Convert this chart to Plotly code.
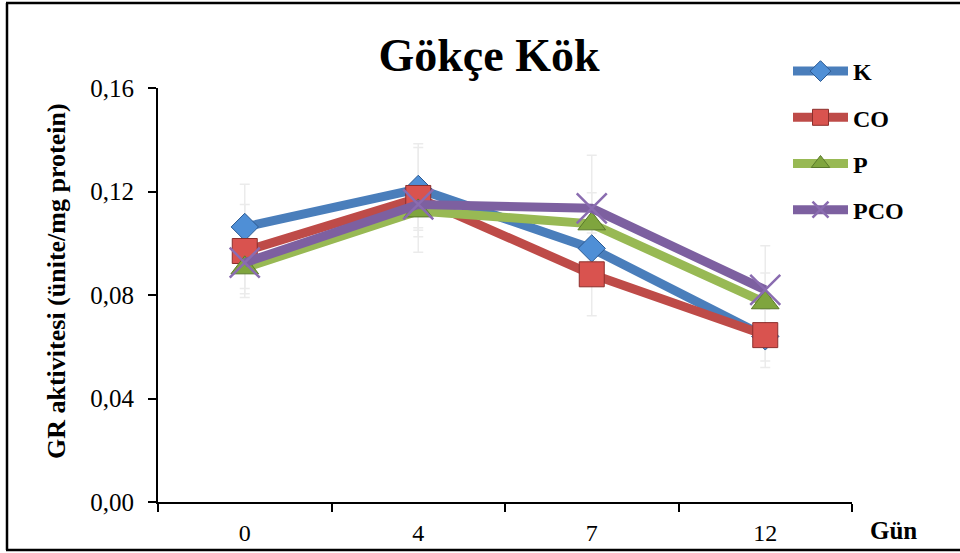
import plotly.graph_objects as go

days = ["0", "4", "7", "12"]
series_names = ["K", "CO", "P", "PCO"]
k_vals = [0.1063, 0.1210, 0.0980, 0.0640]
co_vals = [0.0970, 0.1175, 0.0880, 0.0645]
p_vals = [0.0905, 0.1125, 0.1075, 0.0770]
pco_vals = [0.0925, 0.1150, 0.1135, 0.0820]
k_err = [0.0165, 0.0160, 0.0140, 0.0120]
co_err = [0.0180, 0.0210, 0.0160, 0.0100]
p_err = [0.0100, 0.0100, 0.0120, 0.0115]
pco_err = [0.0100, 0.0090, 0.0205, 0.0170]
y_ticks = [0.0, 0.04, 0.08, 0.12, 0.16]
y_ticktext = ["0,00", "0,04", "0,08", "0,12", "0,16"]

W, H = 960, 553
ML, MR, MT, MB = 158, 108, 88, 51
pw = W - ML - MR
ph = H - MT - MB


def px_x(p):
    return (p - ML) / pw


def px_y(p):
    return (H - MB - p) / ph


styles = [
    dict(color="#4a7ebb", symbol="diamond", size=21, mcolor="#4f8fd6", lcolor="#2c5a92", lw=1),
    dict(color="#be4b48", symbol="square", size=25, mcolor="#d9534f", lcolor="#8c2f2c", lw=1),
    dict(color="#98b954", symbol="triangle-up", size=24, mcolor="#7fa53e", lcolor="#5a7a2a", lw=1),
    dict(color="#7d60a0", symbol="x-thin", size=30, mcolor="#8a6cb0", lcolor="#8a6cb0", lw=2.5),
]
vals = [k_vals, co_vals, p_vals, pco_vals]
errs = [k_err, co_err, p_err, pco_err]

fig = go.Figure()
# error bars first (behind lines and markers)
for name, v, e in zip(series_names, vals, errs):
    fig.add_trace(go.Scatter(
        x=days, y=v, mode="markers", marker=dict(size=1, opacity=0),
        showlegend=False, hoverinfo="skip", legendgroup="err_" + name,
        error_y=dict(type="data", array=e, visible=True, color="#ebebeb",
                     thickness=1.5, width=5),
    ))
for name, v, s in zip(series_names, vals, styles):
    fig.add_trace(go.Scatter(
        x=days, y=v, name="<b>" + name + "</b>", mode="lines+markers",
        legendgroup=name,
        line=dict(color=s["color"], width=9),
        marker=dict(symbol=s["symbol"], size=s["size"], color=s["mcolor"],
                    line=dict(color=s["lcolor"], width=s["lw"])),
    ))

# outer frame (left, top, bottom)
fig.add_shape(type="line", xref="paper", yref="paper",
              x0=px_x(7), x1=px_x(7), y0=px_y(550), y1=px_y(3),
              line=dict(color="black", width=2.5))
fig.add_shape(type="line", xref="paper", yref="paper",
              x0=px_x(6), x1=px_x(960), y0=px_y(3), y1=px_y(3),
              line=dict(color="black", width=2.5))
fig.add_shape(type="line", xref="paper", yref="paper",
              x0=px_x(6), x1=px_x(960), y0=px_y(550), y1=px_y(550),
              line=dict(color="black", width=2.5))

fig.add_annotation(text="<b>Gün</b>", xref="paper", yref="paper",
                   x=px_x(868), y=px_y(530), xanchor="left", yanchor="middle",
                   showarrow=False, font=dict(family="Liberation Serif", size=25, color="black"))
fig.add_annotation(text="<b>GR aktivitesi (ünite/mg protein)</b>", xref="paper", yref="paper",
                   x=px_x(56), y=px_y(281), xanchor="center", yanchor="middle", textangle=-90,
                   showarrow=False, font=dict(family="Liberation Serif", size=26, color="black"))

fig.update_layout(
    width=W, height=H,
    margin=dict(l=ML, r=MR, t=MT, b=MB, autoexpand=False),
    paper_bgcolor="white", plot_bgcolor="white",
    title=dict(text="<b>Gökçe Kök</b>", x=489 / W, xanchor="center",
               y=1 - 55 / H, yanchor="middle",
               font=dict(family="Liberation Serif", size=46, color="black")),
    font=dict(family="Liberation Serif", color="black"),
    showlegend=True,
    legend=dict(x=px_x(788), y=px_y(49), xanchor="left", yanchor="top",
                font=dict(family="Liberation Serif", size=24, color="black"),
                bgcolor="rgba(0,0,0,0)", tracegroupgap=12, itemwidth=55,
                traceorder="grouped"),
    xaxis=dict(type="category", range=[-0.5, 3.5], tickson="boundaries", ticks="outside", ticklen=8,
               tickwidth=2, tickcolor="black", showline=True, linecolor="black",
               linewidth=2, showgrid=False, zeroline=False, ticklabelstandoff=8,
               automargin=False,
               tickfont=dict(family="Liberation Serif", size=24, color="black")),
    yaxis=dict(range=[0, 0.16], tickvals=y_ticks, ticktext=y_ticktext,
               ticks="outside", ticklen=8, tickwidth=2, tickcolor="black",
               showline=True, linecolor="black", linewidth=2, showgrid=False,
               zeroline=False, ticklabelstandoff=9, automargin=False,
               tickfont=dict(family="Liberation Serif", size=25, color="black")),
)

fig.write_html("out.html", config={"displayModeBar": False},
               post_script="document.body.style.margin='0px';document.body.style.overflow='hidden';")
